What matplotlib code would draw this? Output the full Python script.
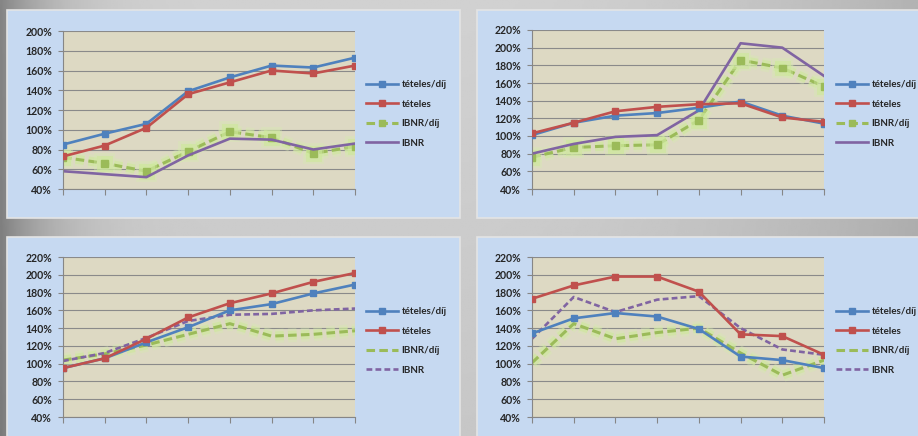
import numpy as np
import matplotlib.pyplot as plt
import matplotlib.patheffects as pe
from matplotlib.patches import Rectangle

W, H = 918, 436

# adatok (8 időszak, %)
labels = ["tételes/díj", "tételes", "IBNR/díj", "IBNR"]

p1_tet_dij = [85, 96, 106, 139, 153, 165, 163, 173]
p1_tet = [73, 84, 102, 136, 148, 160, 157, 165]
p1_ibnr_dij = [72, 66, 58, 78, 98, 92, 76, 83]
p1_ibnr = [58, 55, 52, 74, 91, 90, 80, 86]

p2_tet_dij = [101, 115, 123, 126, 132, 139, 123, 114]
p2_tet = [103, 115, 128, 133, 136, 137, 121, 116]
p2_ibnr_dij = [76, 87, 89, 90, 118, 186, 177, 156]
p2_ibnr = [80, 91, 99, 101, 129, 205, 200, 168]

p3_tet_dij = [95, 106, 124, 141, 160, 167, 179, 189]
p3_tet = [95, 106, 128, 152, 168, 179, 192, 202]
p3_ibnr_dij = [104, 111, 121, 133, 145, 131, 133, 137]
p3_ibnr = [103, 112, 129, 148, 155, 156, 160, 162]

p4_tet_dij = [134, 151, 157, 153, 139, 108, 104, 95]
p4_tet = [173, 188, 198, 198, 181, 133, 131, 110]
p4_ibnr_dij = [101, 145, 128, 135, 140, 112, 87, 104]
p4_ibnr = [128, 175, 158, 172, 176, 140, 116, 110]

plt.rcParams['font.family'] = ['Lato', 'DejaVu Sans']

BLUE, RED, GREEN, PURPLE = '#4F81BD', '#C0504D', '#9BBB59', '#8064A2'
TXT = '#262626'
glow = [pe.Stroke(linewidth=10, foreground='#d6ecae', alpha=0.35),
        pe.Stroke(linewidth=6.5, foreground='#cde89a', alpha=0.6),
        pe.Normal()]


def fbox(x0, y0, x1, y1):
    return [x0 / W, 1 - y1 / H, (x1 - x0) / W, (y1 - y0) / H]


fig = plt.figure(figsize=(W / 100, H / 100), dpi=100)

# szürke háttér színátmenettel
bg = fig.add_axes([0, 0, 1, 1], zorder=-10)
xx = np.linspace(0, 1, 400)
yy = np.linspace(0, 1, 200)
X, Y = np.meshgrid(xx, yy)
left = np.clip(1 - X / 0.48, 0, 1) ** 8
right = np.clip((X - 0.48) / 0.52, 0, 1) ** 2
V = 0.82 - 0.30 * left - 0.12 * right - 0.04 * Y
bg.imshow(V, cmap='gray', vmin=0, vmax=1, aspect='auto', extent=(0, 1, 1, 0))
bg.set_axis_off()

panels = [
    dict(box=(7, 10, 460, 218), ax=(63, 31, 355, 189), ylim=(40, 200),
         data=(p1_tet_dij, p1_tet, p1_ibnr_dij, p1_ibnr), style=1, leg=(366, 114)),
    dict(box=(477, 10, 940, 218), ax=(532, 30, 824, 189), ylim=(40, 220),
         data=(p2_tet_dij, p2_tet, p2_ibnr_dij, p2_ibnr), style=1, leg=(836, 114)),
    dict(box=(7, 237, 460, 450), ax=(63, 257, 355, 417), ylim=(40, 220),
         data=(p3_tet_dij, p3_tet, p3_ibnr_dij, p3_ibnr), style=2, leg=(366, 341)),
    dict(box=(477, 237, 940, 450), ax=(532, 257, 824, 417), ylim=(40, 220),
         data=(p4_tet_dij, p4_tet, p4_ibnr_dij, p4_ibnr), style=2, leg=(836, 341)),
]

for p in panels:
    bx = fbox(*p['box'])
    fig.patches.append(Rectangle((bx[0], bx[1]), bx[2], bx[3], transform=fig.transFigure,
                                 facecolor='#C6D9F1', edgecolor='#e4e4e4', linewidth=1.2, zorder=-5))
    ax = fig.add_axes(fbox(*p['ax']))
    ax.set_facecolor('#DDD9C3')
    a, b, c, d = p['data']
    x = np.arange(len(a))
    ax.plot(x, a, color=BLUE, lw=1.9, marker='s', ms=5, label=labels[0], zorder=3)
    ax.plot(x, b, color=RED, lw=1.9, marker='s', ms=5, label=labels[1], zorder=3)
    if p['style'] == 1:
        ax.plot(x, c, color=GREEN, lw=2.2, marker='s', ms=5, dashes=(2.8, 1.4),
                label=labels[2], path_effects=glow, zorder=2)
        ax.plot(x, d, color=PURPLE, lw=1.9, label=labels[3], zorder=2)
    else:
        ax.plot(x, c, color=GREEN, lw=2.2, dashes=(2.8, 1.4),
                label=labels[2], path_effects=glow, zorder=2)
        ax.plot(x, d, color=PURPLE, lw=1.9, dashes=(2.2, 1.2), label=labels[3], zorder=2)

    lo, hi = p['ylim']
    ax.set_ylim(lo, hi)
    ax.set_xlim(0, 7)
    ax.set_yticks(range(lo, hi + 1, 20))
    ax.set_yticklabels([f"{v}%" for v in range(lo, hi + 1, 20)], fontsize=7.6,
                       fontweight='bold', color=TXT)
    ax.set_xticks(x)
    ax.set_xticklabels([])
    ax.grid(axis='y', color='#8a8a8a', lw=0.8)
    ax.set_axisbelow(True)
    for s in ('top', 'right'):
        ax.spines[s].set_visible(False)
    for s in ('left', 'bottom'):
        ax.spines[s].set_color('#868686')
        ax.spines[s].set_linewidth(0.8)
    ax.tick_params(axis='y', colors='#868686', length=3.5, width=0.8, labelcolor=TXT, pad=4.5)
    ax.tick_params(axis='x', colors='#868686', length=4, width=0.8)

    lx, ly = p['leg']
    leg = ax.legend(loc='center left', bbox_to_anchor=(lx / W, 1 - ly / H),
                    bbox_transform=fig.transFigure, frameon=False,
                    prop=dict(size=7.1, weight='bold'),
                    handlelength=3.2, handletextpad=0.4, labelspacing=1.05, borderpad=0,
                    borderaxespad=0)
    for t in leg.get_texts():
        t.set_color(TXT)
    for h in leg.get_lines():
        h.set_path_effects([])

fig.savefig('out.png', dpi=100)
